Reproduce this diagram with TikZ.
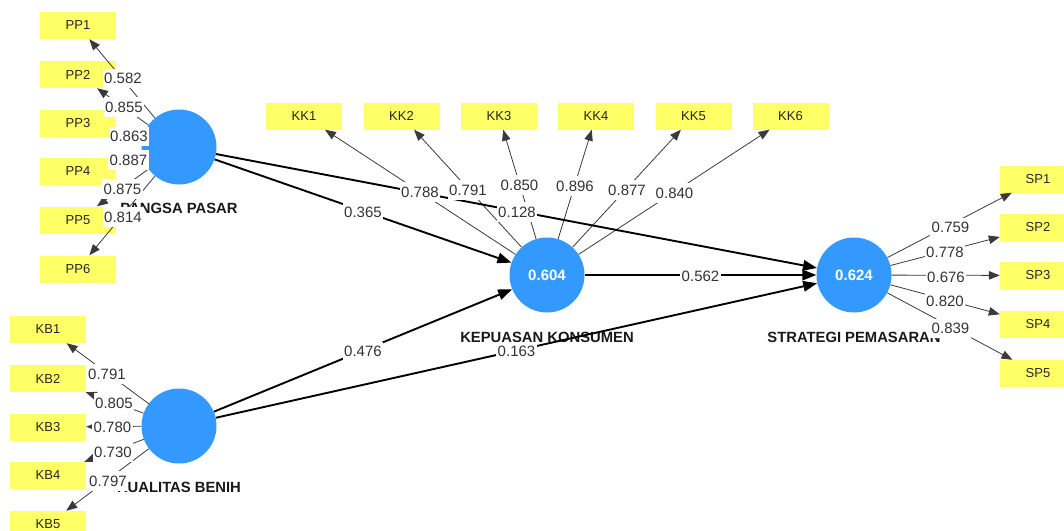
\documentclass[tikz,border=0pt]{standalone}
\usepackage{fontspec}
\setmainfont{Liberation Sans}
\usetikzlibrary{arrows.meta,calc}
\definecolor{lvblue}{HTML}{3399FF}
\definecolor{mvyellow}{HTML}{FFFF66}
\definecolor{edgegray}{HTML}{3A3A3A}
\begin{document}
\begin{tikzpicture}[x=1pt,y=-1pt,
  lv/.style={circle,fill=lvblue,minimum size=75pt,inner sep=0pt,text=white,
    font=\fontsize{15}{18}\selectfont\bfseries},
  mv/.style={rectangle,fill=mvyellow,minimum width=76pt,minimum height=27pt,
    inner sep=0pt,font=\fontsize{13}{16}\selectfont,text=black!85},
  lvname/.style={font=\fontsize{14.8}{18}\selectfont\bfseries,text=black!90},
  loading/.style={draw=edgegray,line width=0.8pt,-{Triangle[length=11pt,width=8.5pt]}},
  structpath/.style={draw=black,line width=1.9pt,-{Triangle[length=14pt,width=10.5pt]}},
  val/.style={fill=white,inner xsep=1.5pt,inner ysep=4.2pt,
    font=\fontsize{15}{18}\selectfont,text=black!80}
]
\useasboundingbox (0,0) rectangle (1064,530);

% latent variables
\node[lv] (pp) at (179,147) {};
\node[lv] (kb) at (179,426) {};
\node[lv] (kk) at (547,275) {0.604};
\node[lv] (sp) at (854,275) {0.624};

% latent variable names
\node[lvname] (ppname) at (179,208) {PANGSA PASAR};
\node[lvname] (kbname) at (179,487) {KUALITAS BENIH};
\node[lvname] (kkname) at (547,337) {KEPUASAN KONSUMEN};
\node[lvname] (spname) at (854,337) {STRATEGI PEMASARAN};

% indicators
\foreach \i/\y in {1/25.5,2/74.5,3/123,4/171.5,5/220,6/269}
  \node[mv] (pp\i) at (78,\y) {PP\i};
\foreach \i/\y in {1/329.5,2/378.5,3/427,4/475.5,5/524.5}
  \node[mv] (kb\i) at (48,\y) {KB\i};
\foreach \i/\x in {1/304,2/401.5,3/499,4/596,5/693.5,6/790.5}
  \node[mv] (kk\i) at (\x,116) {KK\i};
\foreach \i/\y in {1/179,2/227,3/275.5,4/324.5,5/373.5}
  \node[mv] (sp\i) at (1038,\y) {SP\i};

% outer model
\foreach \i in {1,...,6} \draw[loading] (pp) -- (pp\i);
\foreach \i in {1,...,5} \draw[loading] (kb) -- (kb\i);
\foreach \i in {1,...,6} \draw[loading] (kk) -- (kk\i);
\foreach \i in {1,...,5} \draw[loading] (sp) -- (sp\i);

% inner model
\draw[structpath] (pp) -- (kk);
\draw[structpath] (pp) -- (sp);
\draw[structpath] (kb) -- (kk);
\draw[structpath] (kb) -- (sp);
\draw[structpath] (kk) -- (sp);

% path coefficients
\node[val] (c1) at (363,212) {0.365};
\node[val] (c2) at (517,212) {0.128};
\node[val] (c3) at (363,351.5) {0.476};
\node[val] (c4) at (516.5,351.5) {0.163};
\node[val] (c5) at (700.5,276) {0.562};

% outer loadings
\node[val] at (123,78.5) {0.582};
\node[val] at (124,107) {0.855};
\node[val] at (129,136.5) {0.863};
\node[val] at (128.5,160) {0.887};
\node[val] at (122.5,189) {0.875};
\node[val] at (123,217) {0.814};

\node[val] at (107,374) {0.791};
\node[val] at (114,403) {0.805};
\node[val] at (112.5,427.5) {0.780};
\node[val] at (113,452) {0.730};
\node[val] at (108,481) {0.797};

\node[val] at (420,192) {0.788};
\node[val] at (468,190) {0.791};
\node[val] at (519.5,185) {0.850};
\node[val] at (575,186) {0.896};
\node[val] at (627,190) {0.877};
\node[val] at (674.5,193) {0.840};

\node[val] at (950.5,227.5) {0.759};
\node[val] at (945,252) {0.778};
\node[val] at (946,277) {0.676};
\node[val] at (945,301) {0.820};
\node[val] at (950.5,328.5) {0.839};
\end{tikzpicture}
\end{document}
